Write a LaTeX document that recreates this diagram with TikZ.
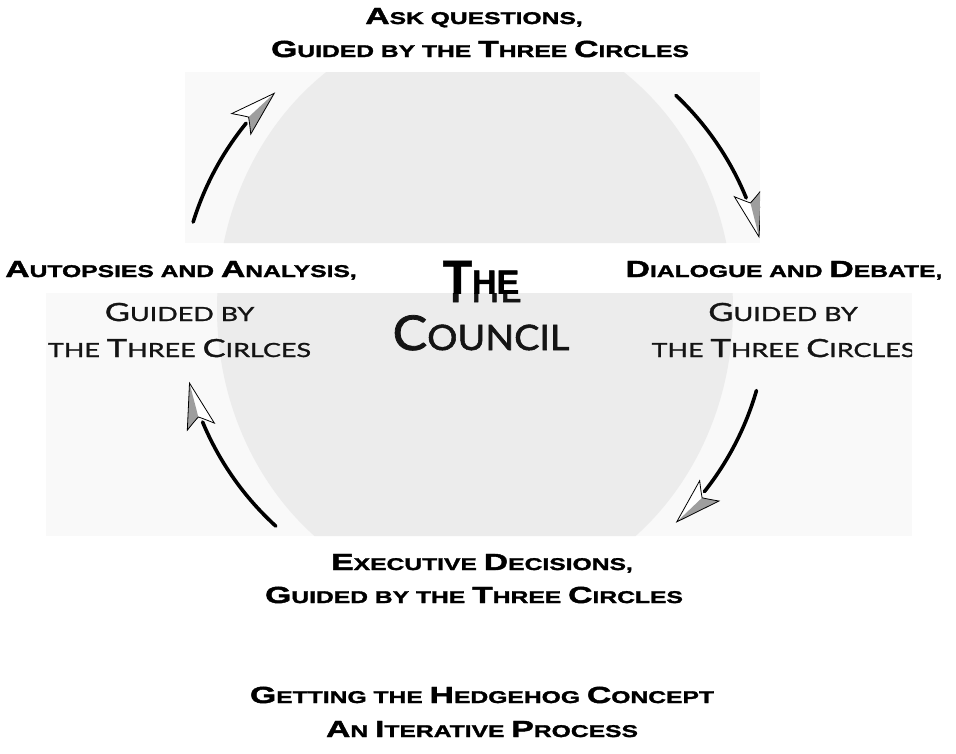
\documentclass[tikz,border=0pt]{standalone}
\usepackage{fontspec}
\usetikzlibrary{calc}
\newfontfamily\boldwide[FakeStretch=1.45, FakeBold=1.8]{Liberation Sans}
\newfontfamily\plainbold[FakeBold=1]{Liberation Sans}
\newfontfamily\scanfont[FakeStretch=1.38, FakeBold=1.3]{Lato}
\newfontfamily\councilfont[FakeStretch=1.08, FakeBold=1.6]{Lato}
\newcommand\Fs[2]{{\fontsize{#1pt}{#1pt}\selectfont #2}}
\newcommand\BL[1]{\Fs{23.3}{#1}}
\definecolor{scanbg}{gray}{0.975}
\definecolor{discgray}{gray}{0.925}
\definecolor{headgray}{gray}{0.62}
\tikzset{
  boldlbl/.style={font=\boldwide\bfseries\fontsize{17pt}{17pt}\selectfont, anchor=base, inner sep=0pt},
  scanlbl/.style={font=\scanfont\fontsize{19.5pt}{19.5pt}\selectfont, anchor=base, inner sep=0pt, text=black!92},
  arcline/.style={line width=3.6pt, line cap=round},
  headline/.style={draw=black, line width=0.8pt, line join=miter},
}
\newcommand\circarrow[4]{%
  \coordinate (#4s) at ($(c)+(#1:294)$);
  \coordinate (#4t) at ($(c)+(#2:294)$);
  \draw[arcline] (#4s) arc[start angle=#1, end angle={#2-8}, radius=294];
  \begin{scope}[shift={(#4t)}, rotate={-(#2)-90}]
    \fill[white] (0,0) -- (-45,14) .. controls (-39,6) and (-37,3) .. (-35,0) .. controls (-37,-3) and (-39,-6) .. (-45,-14) -- cycle;
    \fill[headgray] (0,0) -- (-45,{14*#3}) .. controls (-39,{6*#3}) and (-37,{3*#3}) .. (-35,0) -- cycle;
    \draw[headline] (0,0) -- (-45,14) .. controls (-39,6) and (-37,3) .. (-35,0) .. controls (-37,-3) and (-39,-6) .. (-45,-14) -- cycle;
  \end{scope}}
\begin{document}
\begin{tikzpicture}[x=1pt, y=-1pt]
\useasboundingbox (0,0) rectangle (956,753);
\fill[white] (0,0) rectangle (956,753);
\fill[scanbg] (185,72) rectangle (760,243);
\fill[scanbg] (46,293) rectangle (912,536);
\coordinate (c) at (474,309);
\begin{scope}
  \clip (185,72) rectangle (760,243) (46,293) rectangle (912,536);
  \fill[discgray] (475,309) ellipse [x radius=258, y radius=290];
  \node[scanlbl] (autg) at (179.5,321) {\Fs{25}{G}UIDED BY};
  \node[scanlbl] (autt) at (179.5,357) {THE \Fs{25}{T}HREE \Fs{25}{C}IRLCES};
  \node[scanlbl] (diag) at (783,321) {\Fs{25}{G}UIDED BY};
  \node[scanlbl] (diat) at (783.5,357) {THE \Fs{25}{T}HREE \Fs{25}{C}IRCLES};
  \node[scanlbl, font=\councilfont\fontsize{35pt}{35pt}\selectfont] (cou) at (481,350) {\Fs{48}{C}OUNCIL};
  \node[scanlbl, font=\councilfont\fontsize{35pt}{35pt}\selectfont] (thes) at (481,302) {\Fs{48}{T}HE};
  \circarrow{197.2}{227.2}{1}{ul}
  \circarrow{313.4}{345.8}{-1}{ur}
  \circarrow{16.1}{46.4}{-1}{lr}
  \circarrow{132.4}{165.4}{-1}{ll}
\end{scope}
\begin{scope}
  \clip (0,243) rectangle (956,293);
  \node[anchor=base, inner sep=0pt, font=\plainbold\bfseries\fontsize{34pt}{34pt}\selectfont] (theb) at (481,294) {\Fs{48}{T}HE};
\end{scope}
\node[boldlbl] (ask1) at (474,24) {\BL{A}SK QUESTIONS,};
\node[boldlbl] (ask2) at (480,57) {\BL{G}UIDED BY THE \BL{T}HREE \BL{C}IRCLES};
\node[boldlbl] (aut1) at (181,277) {\BL{A}UTOPSIES AND \BL{A}NALYSIS,};
\node[boldlbl] (dia1) at (784,277) {\BL{D}IALOGUE AND \BL{D}EBATE,};
\node[boldlbl] (exe1) at (482,570) {\BL{E}XECUTIVE \BL{D}ECISIONS,};
\node[boldlbl] (exe2) at (474,603) {\BL{G}UIDED BY THE \BL{T}HREE \BL{C}IRCLES};
\node[boldlbl] (tit1) at (482,703) {\BL{G}ETTING THE \BL{H}EDGEHOG \BL{C}ONCEPT};
\node[boldlbl] (tit2) at (482,737) {\BL{A}N \BL{I}TERATIVE \BL{P}ROCESS};
\end{tikzpicture}
\end{document}
